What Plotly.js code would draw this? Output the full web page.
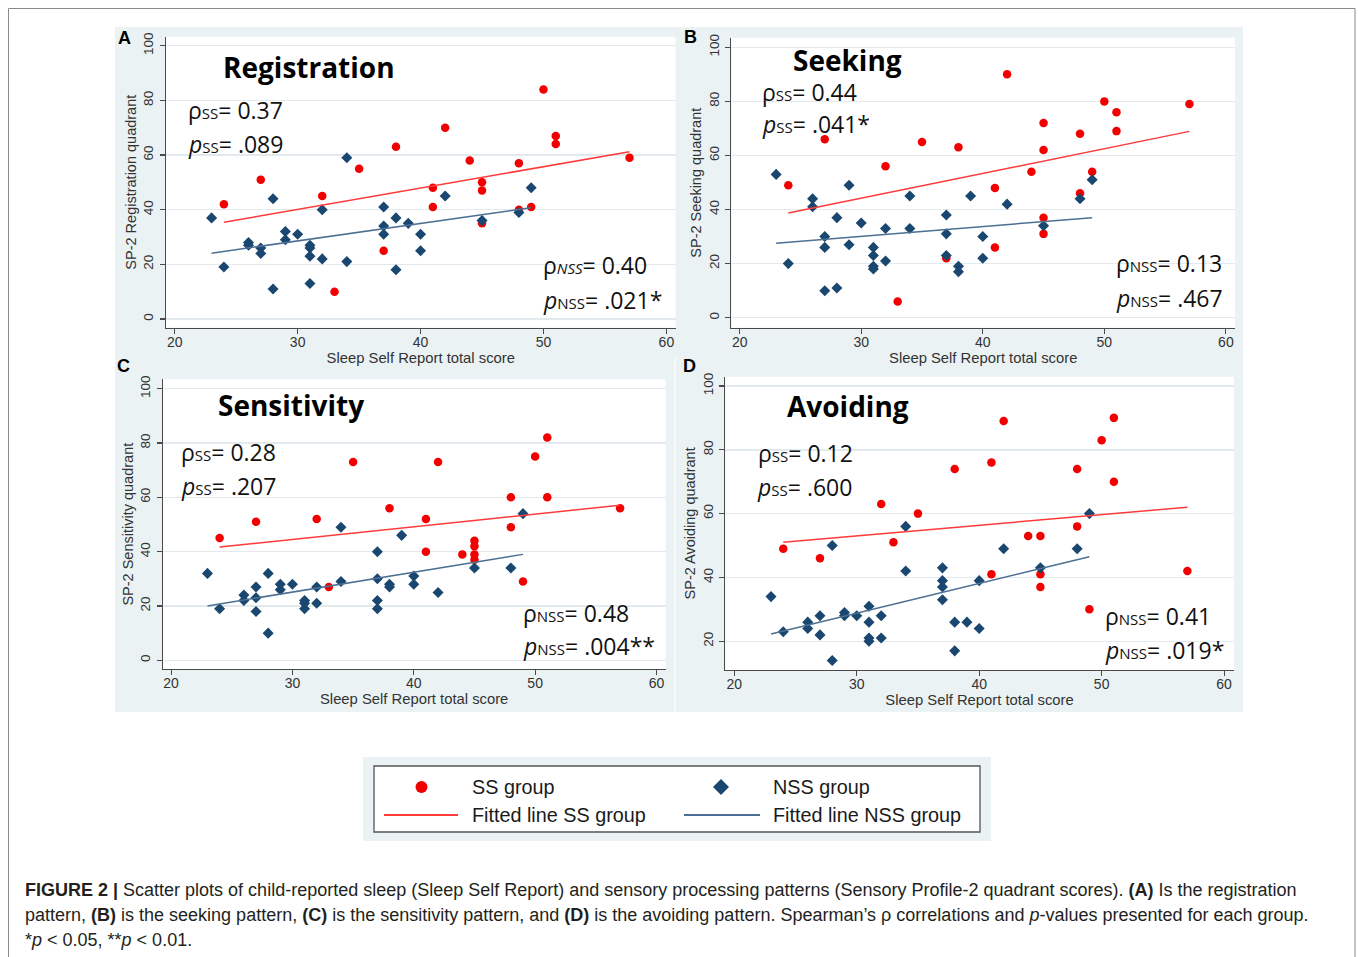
<!DOCTYPE html>
<html>
<head>
<meta charset="utf-8">
<script src="https://cdn.plot.ly/plotly-3.0.1.min.js"></script>
<style>html,body{margin:0;padding:0;background:#fff;}#chart{width:1358px;height:957px;}</style>
</head>
<body>
<div id="chart"></div>
<script>
// ---------------- DATA ----------------
// A: Registration
const regSS_x  = [24,27,32,33,35,37,38,41,41,42,44,45,45,45,48,48,49,50,51,51,57];
const regSS_y  = [42,51,45,10,55,25,63,48,41,70,58,50,47,35,57,40,41,84,67,64,59];
const regNSS_x = [23,24,26,26,27,27,28,28,29,29,30,31,31,31,31,32,32,34,34,37,37,37,38,38,39,40,40,42,45,48,49];
const regNSS_y = [37,19,28,27,26,24,44,11,32,29,31,27,26,23,13,40,22,59,21,41,34,31,37,18,35,31,25,45,36,39,48];
const regFitSS_x = [24,57],  regFitSS_y = [35.4,61.2];
const regFitNSS_x = [23,49], regFitNSS_y = [24.1,40.7];

// B: Seeking
const seekSS_x  = [24,27,32,33,35,37,38,41,41,42,44,45,45,45,45,48,48,49,50,51,51,57];
const seekSS_y  = [49,66,56,6,65,22,63,48,26,90,54,72,62,37,31,68,46,54,80,76,69,79];
const seekNSS_x = [23,24,26,26,27,27,27,28,28,29,29,30,31,31,31,31,32,32,34,34,37,37,37,38,38,39,40,40,42,45,48,49];
const seekNSS_y = [53,20,44,41,30,26,10,37,11,49,27,35,26,23,19,18,33,21,45,33,38,31,23,19,17,45,30,22,42,34,44,51];
const seekFitSS_x = [24,57],  seekFitSS_y = [38.7,68.9];
const seekFitNSS_x = [23,49], seekFitNSS_y = [27.5,37.0];

// C: Sensitivity
const sensSS_x  = [24,27,32,33,35,38,41,41,42,44,45,45,45,45,48,48,49,50,51,51,57];
const sensSS_y  = [45,51,52,27,73,56,52,40,73,39,44,42,39,37,60,49,29,75,82,60,56];
const sensNSS_x = [23,24,26,26,27,27,27,28,28,29,29,30,31,31,31,32,32,34,34,37,37,37,37,38,38,39,40,40,42,45,48,49];
const sensNSS_y = [32,19,24,22,27,23,18,32,10,28,26,28,22,21,19,27,21,49,29,40,30,22,19,28,27,46,31,28,25,34,34,54];
const sensFitSS_x = [24,57],  sensFitSS_y = [41.7,57.1];
const sensFitNSS_x = [23,49], sensFitNSS_y = [20.0,39.0];

// D: Avoiding
const avoidSS_x  = [24,27,32,33,35,38,41,41,42,44,45,45,45,48,48,49,50,51,51,57];
const avoidSS_y  = [49,46,63,51,60,74,76,41,89,53,53,41,37,74,56,30,83,90,70,42];
const avoidNSS_x = [23,24,26,26,27,27,28,28,29,29,30,31,31,31,31,32,32,34,34,37,37,37,37,38,38,39,40,40,42,45,48,49];
const avoidNSS_y = [34,23,26,24,28,22,50,14,29,28,28,31,26,21,20,28,21,56,42,43,39,37,33,26,17,26,39,24,49,43,49,60];
const avoidFitSS_x = [24,57],  avoidFitSS_y = [51.0,62.0];
const avoidFitNSS_x = [23,49], avoidFitNSS_y = [22.3,46.5];

const xTicks = [20,30,40,50,60];
const yTicks = [0,20,40,60,80,100];
const yTicksD = [20,40,60,80,100];
const panelTitles = ['Registration','Seeking','Sensitivity','Avoiding'];
const yTitles = ['SP-2 Registration quadrant','SP-2 Seeking quadrant','SP-2 Sensitivity quadrant','SP-2 Avoiding quadrant'];
const xTitle = 'Sleep Self Report total score';
const legendLabels = ['SS group','NSS group','Fitted line SS group','Fitted line NSS group'];

// ---------------- STYLE ----------------
const W = 1358, H = 957;
const fx = p => p / W;
const fy = p => 1 - p / H;
const RED = '#f20000', NAVY = '#1a476f', REDLINE = '#ff3a3a', BLUELINE = '#4c6f93';
const BG = '#eaf2f3', GRID = '#e2eaee', AXIS = '#4a4a4a', TXT = '#333333';
const SANS = 'Liberation Sans, Arial, sans-serif';
const STAT = 'Open Sans, sans-serif';

const panels = [
  {sx:regSS_x, sy:regSS_y, nx:regNSS_x, ny:regNSS_y, fsx:regFitSS_x, fsy:regFitSS_y, fnx:regFitNSS_x, fny:regFitNSS_y},
  {sx:seekSS_x, sy:seekSS_y, nx:seekNSS_x, ny:seekNSS_y, fsx:seekFitSS_x, fsy:seekFitSS_y, fnx:seekFitNSS_x, fny:seekFitNSS_y},
  {sx:sensSS_x, sy:sensSS_y, nx:sensNSS_x, ny:sensNSS_y, fsx:sensFitSS_x, fsy:sensFitSS_y, fnx:sensFitNSS_x, fny:sensFitNSS_y},
  {sx:avoidSS_x, sy:avoidSS_y, nx:avoidNSS_x, ny:avoidNSS_y, fsx:avoidFitSS_x, fsy:avoidFitSS_y, fnx:avoidFitNSS_x, fny:avoidFitNSS_y}
];

// plot areas in pixels: [left, right, top, bottom] and axis ranges
const geo = [
  {l:166,   r:675.5, t:36.7,  b:327.7, xr:[19.29,60.74], yr:[-3.18,103.3], yt:yTicks},
  {l:731.4, r:1235,  t:37.7,  b:327.7, xr:[19.32,60.75], yr:[-3.70,103.55], yt:yTicks},
  {l:162.7, r:665.6, t:379.3, b:669,   xr:[19.31,60.75], yr:[-3.2,103.46], yt:yTicks},
  {l:725.2, r:1233.9,t:376.7, b:670,   xr:[19.26,60.80], yr:[11.0,102.9], yt:yTicksD}
];

const traces = [];
panels.forEach((p,i) => {
  const xa = i === 0 ? 'x' : 'x' + (i+1);
  const ya = i === 0 ? 'y' : 'y' + (i+1);
  traces.push({x:p.sx, y:p.sy, xaxis:xa, yaxis:ya, type:'scatter', mode:'markers', name:legendLabels[0], showlegend:false,
    marker:{symbol:'circle', size:8.5, color:RED}});
  traces.push({x:p.nx, y:p.ny, xaxis:xa, yaxis:ya, type:'scatter', mode:'markers', name:legendLabels[1], showlegend:false,
    marker:{symbol:'diamond', size:8.5, color:NAVY}});
  traces.push({x:p.fsx, y:p.fsy, xaxis:xa, yaxis:ya, type:'scatter', mode:'lines', name:legendLabels[2], showlegend:false,
    line:{color:REDLINE, width:1.5}});
  traces.push({x:p.fnx, y:p.fny, xaxis:xa, yaxis:ya, type:'scatter', mode:'lines', name:legendLabels[3], showlegend:false,
    line:{color:BLUELINE, width:1.5}});
});

const layout = {
  width: W, height: H,
  margin: {l:0, r:0, t:0, b:0},
  paper_bgcolor: '#ffffff',
  plot_bgcolor: 'rgba(0,0,0,0)',
  showlegend: false,
  font: {family: SANS, color: TXT},
  shapes: [], annotations: []
};

geo.forEach((g,i) => {
  const sfx = i === 0 ? '' : String(i+1);
  layout['xaxis' + sfx] = {
    domain:[fx(g.l), fx(g.r)], range:g.xr, anchor:'y' + sfx,
    showline:true, linecolor:AXIS, linewidth:1.2, ticks:'outside', ticklen:5, tickwidth:1.1, tickcolor:AXIS,
    showgrid:false, zeroline:false, tickmode:'array', tickvals:xTicks, ticklabelstandoff:-4,
    tickfont:{family:SANS, size:14, color:TXT},
    title:{text:xTitle, font:{family:SANS, size:14.8, color:TXT}, standoff:2}
  };
  layout['yaxis' + sfx] = {
    domain:[fy(g.b), fy(g.t)], range:g.yr, anchor:'x' + sfx,
    showline:true, linecolor:AXIS, linewidth:1.2, ticks:'outside', ticklen:5, tickwidth:1.1, tickcolor:AXIS,
    showgrid:true, gridcolor:GRID, gridwidth:1.5, zeroline:false, tickmode:'array', tickvals:g.yt, tickangle:-90,
    ticklabelstandoff:1,
    tickfont:{family:SANS, size:13.5, color:TXT},
    title:{text:yTitles[i], font:{family:SANS, size:14.5, color:TXT}, standoff:1}
  };
});

// panel background (grey-blue) and white plot areas
layout.shapes.push({type:'rect', xref:'paper', yref:'paper', x0:fx(115), x1:fx(1243), y0:fy(712), y1:fy(27), fillcolor:BG, line:{width:0}, layer:'below'});
layout.shapes.push({type:'rect', xref:'paper', yref:'paper', x0:fx(674), x1:fx(676), y0:fy(712), y1:fy(358), fillcolor:'#f7fafb', line:{width:0}, layer:'below'});
geo.forEach(g => {
  layout.shapes.push({type:'rect', xref:'paper', yref:'paper', x0:fx(g.l), x1:fx(g.r), y0:fy(g.b), y1:fy(g.t), fillcolor:'#ffffff', line:{width:0}, layer:'below'});
});
// outer frame
layout.shapes.push({type:'rect', xref:'paper', yref:'paper', x0:fx(8.5), x1:fx(1355), y0:fy(965), y1:fy(8.5), fillcolor:'rgba(0,0,0,0)', line:{color:'#8a8a8a', width:1}, layer:'below'});

// legend box
layout.shapes.push({type:'rect', xref:'paper', yref:'paper', x0:fx(363), x1:fx(991), y0:fy(841), y1:fy(757), fillcolor:BG, line:{width:0}});
layout.shapes.push({type:'rect', xref:'paper', yref:'paper', x0:fx(374), x1:fx(980), y0:fy(832), y1:fy(766), fillcolor:'#ffffff', line:{color:'#555555', width:1.3}});
layout.shapes.push({type:'circle', xref:'paper', yref:'paper', x0:fx(415.5), x1:fx(427.5), y0:fy(793), y1:fy(781), fillcolor:RED, line:{width:0}});
layout.shapes.push({type:'path', xref:'paper', yref:'paper',
  path:`M ${fx(721)} ${fy(779)} L ${fx(729)} ${fy(787)} L ${fx(721)} ${fy(795)} L ${fx(713)} ${fy(787)} Z`,
  fillcolor:NAVY, line:{width:0}});
layout.shapes.push({type:'line', xref:'paper', yref:'paper', x0:fx(384), x1:fx(458), y0:fy(815), y1:fy(815), line:{color:REDLINE, width:2}});
layout.shapes.push({type:'line', xref:'paper', yref:'paper', x0:fx(684), x1:fx(760), y0:fy(815), y1:fy(815), line:{color:BLUELINE, width:2}});

function ann(text, x, y, opts) {
  layout.annotations.push(Object.assign({text:text, xref:'paper', yref:'paper', x:fx(x), y:fy(y),
    xanchor:'left', yanchor:'middle', showarrow:false, align:'left',
    font:{family:SANS, size:14, color:TXT}}, opts || {}));
}
const LEG = {family:SANS, size:19.8, color:'#1a1a1a'};
ann(legendLabels[0], 470, 787, {font:LEG});
ann(legendLabels[2], 470, 815, {font:LEG});
ann(legendLabels[1], 771, 787, {font:LEG});
ann(legendLabels[3], 771, 815, {font:LEG});

// panel letters
const LET = {family:SANS, size:18, color:'#000000'};
ann('<b>A</b>', 124.5, 37.5, {xanchor:'center', font:LET});
ann('<b>B</b>', 690, 37, {xanchor:'center', font:LET});
ann('<b>C</b>', 123.5, 366, {xanchor:'center', font:LET});
ann('<b>D</b>', 689.5, 366, {xanchor:'center', font:LET});

// panel titles
const TIT = {family:STAT, size:28, color:'#000000'};
ann('<b>' + panelTitles[0] + '</b>', 309, 67, {xanchor:'center', font:TIT});
ann('<b>' + panelTitles[1] + '</b>', 847, 60, {xanchor:'center', font:TIT});
ann('<b>' + panelTitles[2] + '</b>', 291, 405, {xanchor:'center', font:TIT});
ann('<b>' + panelTitles[3] + '</b>', 848, 406, {xanchor:'center', font:TIT});

// statistics
const ST = {family:STAT, size:23, color:'#111111'};
const sub = s => `<span style="font-size:15px">${s}</span>`;
const stats = [
  ['ρ' + sub('SS') + '= 0.37', 186, 110], ['<i>p</i>' + sub('SS') + '= .089', 186, 144],
  ['ρ' + sub('<i>NSS</i>') + '= 0.40', 541, 265], ['<i>p</i>' + sub('NSS') + '= .021*', 541, 300],
  ['ρ' + sub('SS') + '= 0.44', 760, 92], ['<i>p</i>' + sub('SS') + '= .041*', 760, 124],
  ['ρ' + sub('NSS') + '= 0.13', 1114, 263], ['<i>p</i>' + sub('NSS') + '= .467', 1114, 298],
  ['ρ' + sub('SS') + '= 0.28', 179, 452], ['<i>p</i>' + sub('SS') + '= .207', 179, 486],
  ['ρ' + sub('NSS') + '= 0.48', 521, 613], ['<i>p</i>' + sub('NSS') + '= .004**', 521, 646],
  ['ρ' + sub('SS') + '= 0.12', 756, 453], ['<i>p</i>' + sub('SS') + '= .600', 755, 487],
  ['ρ' + sub('NSS') + '= 0.41', 1103, 616], ['<i>p</i>' + sub('NSS') + '= .019*', 1103, 650]
];
stats.forEach(s => ann(s[0], s[1], s[2], {font:ST}));

// caption
const CAP = {family:SANS, size:18, color:'#231f20'};
ann('<b>FIGURE 2 |</b> Scatter plots of child-reported sleep (Sleep Self Report) and sensory processing patterns (Sensory Profile-2 quadrant scores). <b>(A)</b> Is the registration', 23, 890, {font:CAP});
ann('pattern, <b>(B)</b> is the seeking pattern, <b>(C)</b> is the sensitivity pattern, and <b>(D)</b> is the avoiding pattern. Spearman\u2019s ρ correlations and <i>p</i>-values presented for each group.', 23, 915, {font:CAP});
ann('*<i>p</i> &lt; 0.05, **<i>p</i> &lt; 0.01.', 23, 940, {font:CAP});

Plotly.newPlot('chart', traces, layout, {staticPlot:true, displayModeBar:false});
</script>
</body>
</html>
